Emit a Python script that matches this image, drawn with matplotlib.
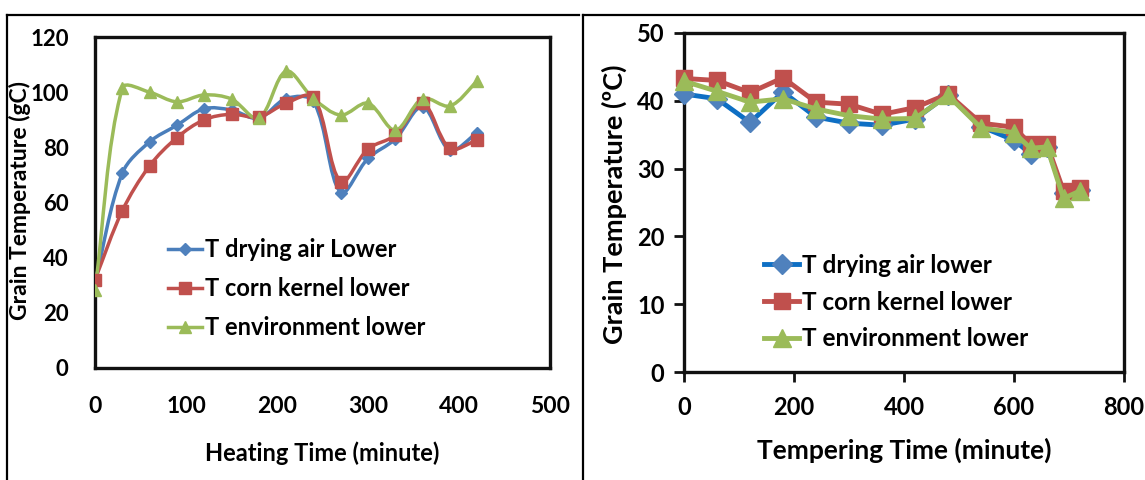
import numpy as np
import matplotlib
matplotlib.use("Agg")
import matplotlib.pyplot as plt
from matplotlib.path import Path
from matplotlib.patches import PathPatch
from matplotlib.lines import Line2D

plt.rcParams['font.family'] = ['Lato', 'DejaVu Sans']
plt.rcParams['font.weight'] = 'bold'

# ---------------- data ----------------
heat_time = [0, 30, 60, 90, 120, 150, 180, 210, 240, 270, 300, 330, 360, 390, 420]
heat_air = [31, 70.6, 82, 88, 94, 93.5, 90.5, 97.7, 96.7, 63.6, 76, 83, 94.7, 79, 85.3]
heat_kernel = [32, 57, 73.3, 83.5, 90, 92, 91, 96, 98.3, 67.5, 79.4, 84.4, 96, 79.6, 82.6]
heat_env = [28.3, 101.5, 100, 96.5, 99, 97.5, 90.5, 107.6, 97.7, 91.7, 96, 86.2, 97.7, 95, 104]

temp_time = [0, 60, 120, 180, 240, 300, 360, 420, 480, 540, 600, 630, 660, 690, 720]
temp_air = [41.0, 40.3, 36.8, 41.3, 37.6, 36.7, 36.4, 37.3, 40.9, 36.2, 34.2, 32.2, 33.2, 26.4, 26.8]
temp_kernel = [43.3, 43.0, 41.2, 43.4, 39.8, 39.5, 38.0, 39.0, 41.0, 36.7, 36.1, 33.6, 33.6, 26.7, 27.2]
temp_env = [42.9, 41.4, 39.8, 40.3, 38.8, 37.8, 37.3, 37.4, 40.8, 36.0, 35.3, 33.0, 33.2, 25.6, 26.7]

left_labels = ["T drying air Lower", "T corn kernel lower", "T environment lower"]
right_labels = ["T drying air lower", "T corn kernel lower", "T environment lower"]

BLUE_M = "#4F81BD"
BLUE_L_LEFT = "#4A7EBB"
BLUE_L_RIGHT = "#0E6FC4"
RED = "#C0504D"
GREEN = "#9BBB59"

W, H = 1145, 480
fig = plt.figure(figsize=(W / 100, H / 100), dpi=100)


def fx(px):
    return px / W


def fy(py):
    return 1 - py / H


# outer frames
for x0, x1 in [(7, 579), (583, 1150)]:
    fig.add_artist(Line2D([fx(x0), fx(x1)], [fy(15), fy(15)], color='black', lw=1.6,
                          transform=fig.transFigure))
    fig.add_artist(Line2D([fx(x0), fx(x0)], [fy(15), fy(490)], color='black', lw=1.6,
                          transform=fig.transFigure))

# ---------------- left axes ----------------
axL = fig.add_axes([fx(95), fy(368), fx(550) - fx(95), fy(37) - fy(368)])
axL.set_xlim(0, 500)
axL.set_ylim(0, 120)
axL.set_xticks(range(0, 501, 100))
axL.set_yticks(range(0, 121, 20))
axL.tick_params(length=0, labelsize=16, pad=19)
axL.tick_params(axis='x', labelsize=16.5, pad=20)
for s in axL.spines.values():
    s.set_linewidth(2.4)
    s.set_color('#111111')


def smooth_path(ax, xs, ys):
    # Catmull-Rom style Bezier through the data points, computed in display space
    pts = ax.transData.transform(np.column_stack([xs, ys]))
    n = len(pts)
    verts = [pts[0]]
    codes = [Path.MOVETO]
    for i in range(n - 1):
        p0 = pts[i - 1] if i > 0 else pts[i]
        p1 = pts[i]
        p2 = pts[i + 1]
        p3 = pts[i + 2] if i + 2 < n else pts[i + 1]
        d01 = np.hypot(*(p1 - p0)) if i > 0 else 0
        d12 = np.hypot(*(p2 - p1))
        d23 = np.hypot(*(p3 - p2)) if i + 2 < n else 0
        t1 = (p2 - p0) * (d12 / (d01 + d12) if (d01 + d12) > 0 else 0.5) * 0.5
        t2 = (p3 - p1) * (d12 / (d12 + d23) if (d12 + d23) > 0 else 0.5) * 0.5
        c1 = p1 + t1 * 2 / 3
        c2 = p2 - t2 * 2 / 3
        verts += [c1, c2, p2]
        codes += [Path.CURVE4] * 3
    inv = ax.transData.inverted()
    return Path(inv.transform(np.array(verts)), codes)


left_series = [
    (heat_air, BLUE_L_LEFT, BLUE_M, 'D', 6.5, left_labels[0]),
    (heat_kernel, RED, RED, 's', 8, left_labels[1]),
    (heat_env, GREEN, GREEN, '^', 9, left_labels[2]),
]
handles = []
for ys, lc, mc, mk, ms, lab in left_series:
    p = smooth_path(axL, heat_time, ys)
    axL.add_patch(PathPatch(p, facecolor='none', edgecolor=lc, lw=2.5, zorder=3))
    axL.plot(heat_time, ys, linestyle='none', marker=mk, ms=ms, color=mc, zorder=4)
    handles.append(Line2D([], [], color=lc, lw=2.5, marker=mk, ms=ms, mfc=mc, mec=mc))

axL.legend(handles, left_labels, loc='upper left', frameon=False,
           bbox_to_anchor=(fx(168), fy(238)), bbox_transform=fig.transFigure,
           borderpad=0, borderaxespad=0, handlelength=1.45,
           handletextpad=0.1, labelspacing=0.68, prop={'weight': 'bold', 'size': 17})

fig.text(fx(20), fy(200), "Grain Temperature (gC)", rotation=90, ha='center', va='center',
         fontsize=16.5, fontweight='bold')
fig.text(fx(322), fy(453), "Heating Time (minute)", ha='center', va='center',
         fontsize=17, fontweight='bold')

# ---------------- right axes ----------------
axR = fig.add_axes([fx(684), fy(372), fx(1124) - fx(684), fy(33) - fy(372)])
axR.set_xlim(0, 800)
axR.set_ylim(0, 50)
axR.set_xticks(range(0, 801, 200))
axR.set_yticks(range(0, 51, 10))
axR.tick_params(direction='out', length=7, width=2, labelsize=17, pad=7, color='#111111')
axR.tick_params(axis='x', pad=10)
for s in axR.spines.values():
    s.set_linewidth(2.4)
    s.set_color('#111111')

right_series = [
    (temp_air, BLUE_L_RIGHT, BLUE_M, 'D', 10.5, right_labels[0]),
    (temp_kernel, RED, RED, 's', 11.5, right_labels[1]),
    (temp_env, GREEN, GREEN, '^', 13, right_labels[2]),
]
for ys, lc, mc, mk, ms, lab in right_series:
    axR.plot(temp_time, ys, color=lc, lw=3.5, marker=mk, ms=ms, mfc=mc, mec=mc,
             label=lab, zorder=3, clip_on=False)

axR.legend(loc='upper left', frameon=False,
           bbox_to_anchor=(fx(764), fy(254)), bbox_transform=fig.transFigure,
           borderpad=0, borderaxespad=0, handlelength=1.45,
           handletextpad=0.1, labelspacing=0.56, prop={'weight': 'bold', 'size': 17.5})

fig.text(fx(614), fy(204), "Grain Temperature (\u00baC)", rotation=90, ha='center', va='center',
         fontsize=19.5, fontweight='bold')
fig.text(fx(904), fy(450), "Tempering Time (minute)", ha='center', va='center',
         fontsize=19, fontweight='bold')

fig.savefig("out.png", dpi=100)
